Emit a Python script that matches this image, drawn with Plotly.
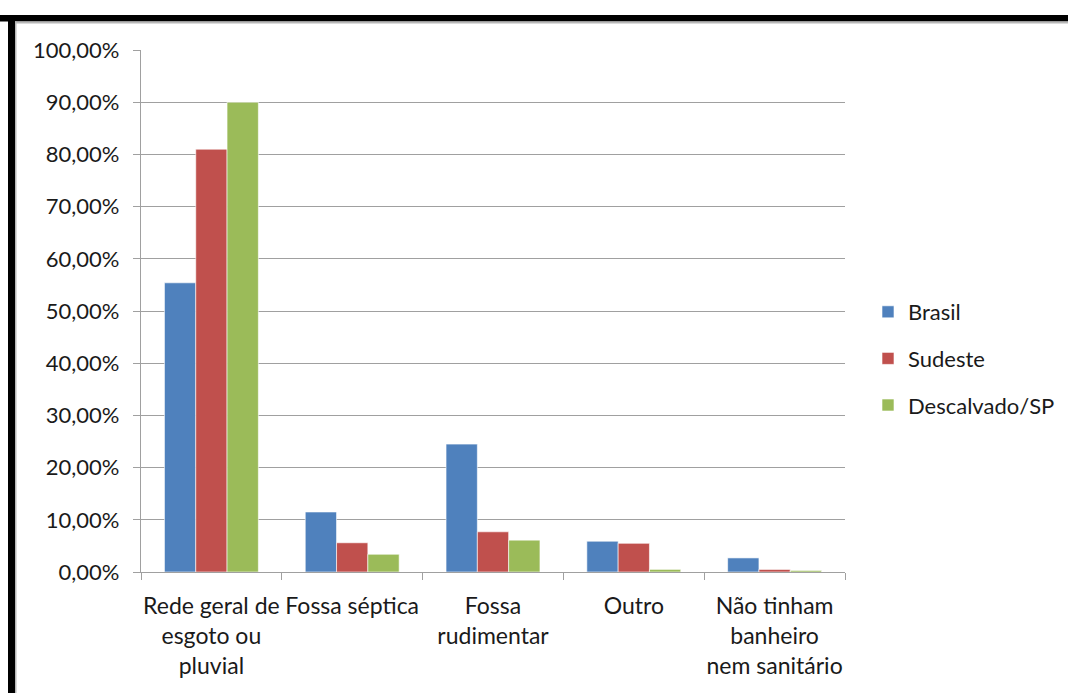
import plotly.graph_objects as go

categories = [
    "Rede geral de<br>esgoto ou<br>pluvial",
    "Fossa séptica",
    "Fossa<br>rudimentar",
    "Outro",
    "Não tinham<br>banheiro<br>nem sanitário",
]
series_names = ["Brasil", "Sudeste", "Descalvado/SP"]
brasil = [55.4, 11.5, 24.5, 5.9, 2.7]
sudeste = [81.0, 5.6, 7.7, 5.5, 0.5]
descalvado = [90.0, 3.4, 6.1, 0.5, 0.3]
colors = ["#4F81BD", "#C0504D", "#9BBB59"]

y_ticks = list(range(0, 101, 10))
y_tick_text = [f"{v},00%" for v in y_ticks]

FONT = "Lato"
W, H = 1068, 693
L, R, T, B = 141, 223, 50, 121
PW, PH = W - L - R, H - T - B


def px_x(px):
    return (px - L) / PW


def px_y(py):
    return (H - B - py) / PH


fig = go.Figure()
for i, (name, vals) in enumerate(zip(series_names, [brasil, sudeste, descalvado])):
    fig.add_trace(go.Bar(
        x=categories, y=vals, name=name,
        marker=dict(color=colors[i], line=dict(color="white", width=0.6)),
        legendgroup=name,
    ))

axis_gray = "#A0A0A0"
fig.update_layout(
    width=W, height=H,
    margin=dict(l=L, r=R, t=T, b=B, pad=0, autoexpand=False),
    paper_bgcolor="white", plot_bgcolor="white",
    barmode="group", bargap=0.333, bargroupgap=0,
    font=dict(family=FONT, size=22, color="#1a1a1a"),
    legend=dict(
        x=px_x(868), xanchor="left", y=px_y(291), yanchor="top",
        font=dict(size=22), tracegroupgap=15, traceorder="grouped",
        itemwidth=30, bgcolor="rgba(0,0,0,0)",
    ),
    xaxis=dict(
        tickson="boundaries", ticks="outside", ticklen=7, tickcolor=axis_gray,
        showline=True, linecolor=axis_gray, linewidth=1.3,
        showgrid=False, tickfont=dict(size=23), fixedrange=True,
        ticklabelstandoff=13, tickangle=0, automargin=False,
    ),
    yaxis=dict(
        range=[0, 100], tickvals=y_ticks, ticktext=y_tick_text,
        ticks="outside", ticklen=7, tickcolor=axis_gray,
        showline=True, linecolor=axis_gray, linewidth=1.3,
        showgrid=True, gridcolor=axis_gray, gridwidth=1.3,
        zeroline=False, tickfont=dict(size=22), ticklabelstandoff=9,
        automargin=False,
    ),
    shapes=[
        # outer frame: black top and left edges with a thin gray inner rule
        dict(type="rect", xref="paper", yref="paper", layer="above",
             x0=px_x(0), x1=px_x(W + 5), y0=px_y(15), y1=px_y(21.5),
             fillcolor="black", line=dict(width=0)),
        dict(type="rect", xref="paper", yref="paper", layer="above",
             x0=px_x(15), x1=px_x(W + 5), y0=px_y(21.5), y1=px_y(23.5),
             fillcolor="#B8B8B8", line=dict(width=0)),
        dict(type="rect", xref="paper", yref="paper", layer="above",
             x0=px_x(8), x1=px_x(15), y0=px_y(H + 5), y1=px_y(15),
             fillcolor="black", line=dict(width=0)),
        dict(type="rect", xref="paper", yref="paper", layer="above",
             x0=px_x(15), x1=px_x(16.5), y0=px_y(H + 5), y1=px_y(21.5),
             fillcolor="#B8B8B8", line=dict(width=0)),
    ],
)

fig.write_html("out.html")
